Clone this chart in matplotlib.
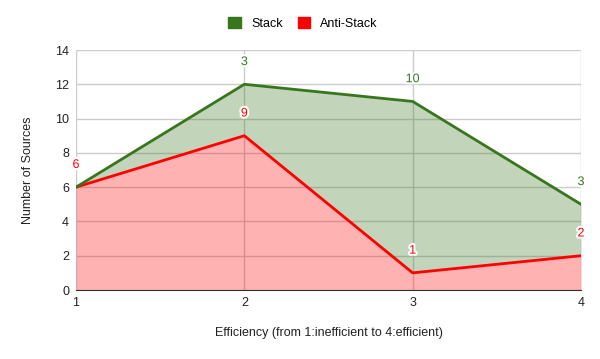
import matplotlib
matplotlib.use("Agg")
import matplotlib.pyplot as plt
import matplotlib.patheffects as pe
from matplotlib.patches import Patch
import numpy as np

plt.rcParams['font.family'] = ['Liberation Sans', 'DejaVu Sans']

efficiency = [1, 2, 3, 4]
anti_stack = [6, 9, 1, 2]
stack = [0, 3, 10, 3]
series_names = ["Stack", "Anti-Stack"]

green = "#38761d"
red = "#ff0000"

fig = plt.figure(figsize=(6, 3.59), dpi=100)
ax = fig.add_axes([0.1267, 0.1922, 0.8416, 0.6685])

x = np.array(efficiency)
a = np.array(anti_stack)
s = np.array(stack)
total = a + s

ax.fill_between(x, 0, a, color=red, alpha=0.3, linewidth=0, zorder=2)
ax.fill_between(x, a, total, color=green, alpha=0.3, linewidth=0, zorder=2)
ax.plot(x, a, color=red, linewidth=2, zorder=3)
ax.plot(x, total, color=green, linewidth=2, zorder=3)

halo = [pe.withStroke(linewidth=3, foreground="white")]
for xi, ai, si, ti in zip(x, a, s, total):
    ax.annotate(str(ai), (xi, ai), xytext=(0, 16), textcoords="offset points",
                ha="center", va="center", color=red, fontsize=9, path_effects=halo, zorder=5)
    if si != 0:
        ax.annotate(str(si), (xi, ti), xytext=(0, 16), textcoords="offset points",
                    ha="center", va="center", color=green, fontsize=9, path_effects=halo, zorder=5)

ax.set_xlim(1, 4)
ax.set_ylim(0, 14)
ax.set_xticks(efficiency)
ax.set_yticks(range(0, 15, 2))
ax.grid(True, color="#cccccc", linewidth=1, zorder=1)
ax.set_axisbelow(True)
for side in ["top", "right", "left"]:
    ax.spines[side].set_visible(False)
ax.spines["bottom"].set_color("#333333")
ax.spines["bottom"].set_zorder(4)
ax.tick_params(length=0, labelsize=9, colors="#222222", pad=5)

ax.set_xlabel("Efficiency (from 1:inefficient to 4:efficient)", fontsize=9, color="#222222", labelpad=13)
ax.set_ylabel("Number of Sources", fontsize=9, color="#222222", labelpad=15)

handles = [Patch(facecolor=green, edgecolor=green), Patch(facecolor=red, edgecolor=red)]
fig.legend(handles, series_names, loc="center", bbox_to_anchor=(0.505, 0.935), ncol=2,
           frameon=False, fontsize=9, handlelength=1.0, handleheight=1.0, columnspacing=1.2,
           handletextpad=0.8)

fig.savefig("out.png", dpi=100)
